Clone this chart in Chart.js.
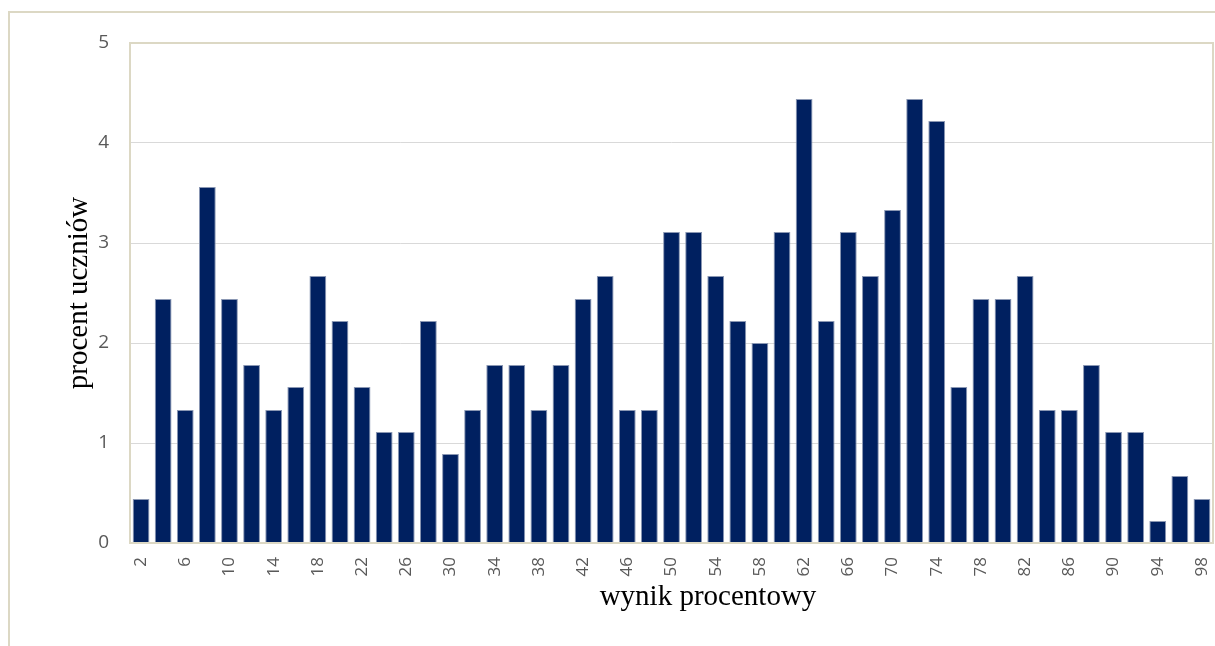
<!DOCTYPE html>
<html>
<head>
<meta charset="utf-8">
<script src="https://cdn.jsdelivr.net/npm/chart.js@4/dist/chart.umd.min.js"></script>
<style>
  html, body { margin: 0; padding: 0; background: #fff; }
  #wrap { width: 1215px; height: 646px; }
</style>
</head>
<body>
<div id="wrap"><canvas id="histChart"></canvas></div>
<script>
// wynik procentowy (2, 4, ..., 98)
var scores = [2, 4, 6, 8, 10, 12, 14, 16, 18, 20, 22, 24, 26, 28, 30, 32, 34, 36, 38, 40,
              42, 44, 46, 48, 50, 52, 54, 56, 58, 60, 62, 64, 66, 68, 70, 72, 74, 76, 78, 80,
              82, 84, 86, 88, 90, 92, 94, 96, 98];
// procent uczniów
var percents = [0.44, 2.44, 1.33, 3.56, 2.44, 1.78, 1.33, 1.56, 2.67, 2.22,
                1.56, 1.11, 1.11, 2.22, 0.89, 1.33, 1.78, 1.78, 1.33, 1.78,
                2.44, 2.67, 1.33, 1.33, 3.11, 3.11, 2.67, 2.22, 2.00, 3.11,
                4.44, 2.22, 3.11, 2.67, 3.33, 4.44, 4.22, 1.56, 2.44, 2.44,
                2.67, 1.33, 1.33, 1.78, 1.11, 1.11, 0.22, 0.67, 0.44];
var yTicks = [0, 1, 2, 3, 4, 5];
var xTitle = 'wynik procentowy';

var frameColor = '#dcd8c4';

var framePlugin = {
    id: 'frames',
    beforeDraw: function(chart) {
        var ctx = chart.ctx;
        ctx.save();
        ctx.fillStyle = '#ffffff';
        ctx.fillRect(0, 0, chart.width, chart.height);
        ctx.strokeStyle = frameColor;
        ctx.lineWidth = 2;
        ctx.beginPath();
        ctx.moveTo(9, chart.height + 5);
        ctx.lineTo(9, 12);
        ctx.lineTo(chart.width + 5, 12);
        ctx.stroke();
        ctx.restore();
    },
    afterDatasetsDraw: function(chart) {
        var a = chart.chartArea;
        var ctx = chart.ctx;
        ctx.save();
        ctx.strokeStyle = frameColor;
        ctx.lineWidth = 2;
        ctx.strokeRect(a.left, a.top, a.right - a.left, a.bottom - a.top);
        // x axis title, sits a bit right of the plot centre like in the original
        ctx.fillStyle = '#000000';
        ctx.font = '29px "Liberation Serif"';
        ctx.textAlign = 'center';
        ctx.textBaseline = 'alphabetic';
        ctx.fillText(xTitle, 708, 605);
        ctx.restore();
    }
};

var ctx = document.getElementById('histChart').getContext('2d');
var histChart = new Chart(ctx, {
    type: 'bar',
    data: {
        labels: scores,
        datasets: [{
            label: 'procent uczniów',
            data: percents,
            backgroundColor: '#002060',
            borderColor: '#8a97b3',
            borderWidth: 1,
            barPercentage: 0.76,
            categoryPercentage: 1.0
        }]
    },
    options: {
        responsive: true,
        maintainAspectRatio: false,
        animation: false,
        layout: {
            padding: { top: 43, right: 2, left: 0, bottom: 0 }
        },
        plugins: {
            legend: { display: false },
            tooltip: { enabled: false }
        },
        scales: {
            x: {
                grid: { display: false },
                border: { display: false },
                ticks: {
                    autoSkip: false,
                    maxRotation: 90,
                    minRotation: 90,
                    color: '#595959',
                    font: { family: 'Open Sans', size: 17 },
                    padding: 6,
                    callback: function(value, index) {
                        return index % 2 === 0 ? this.getLabelForValue(value) : '';
                    }
                },
                afterFit: function(scale) {
                    scale.height = 103;
                    scale.paddingLeft = 0;
                    scale.paddingRight = 0;
                }
            },
            y: {
                min: 0,
                max: 5,
                afterBuildTicks: function(scale) {
                    scale.ticks = yTicks.map(function(v) { return { value: v }; });
                },
                grid: { color: '#d9d9d9', lineWidth: 1, drawTicks: false },
                border: { display: false },
                ticks: {
                    color: '#595959',
                    font: { family: 'Open Sans', size: 19 },
                    padding: 21
                },
                title: {
                    display: true,
                    text: 'procent uczniów',
                    color: '#000000',
                    font: { family: 'Liberation Serif', size: 29 },
                    padding: { top: 62, bottom: 0 }
                },
                afterFit: function(scale) { scale.width = 130; }
            }
        }
    },
    plugins: [framePlugin]
});
</script>
</body>
</html>
